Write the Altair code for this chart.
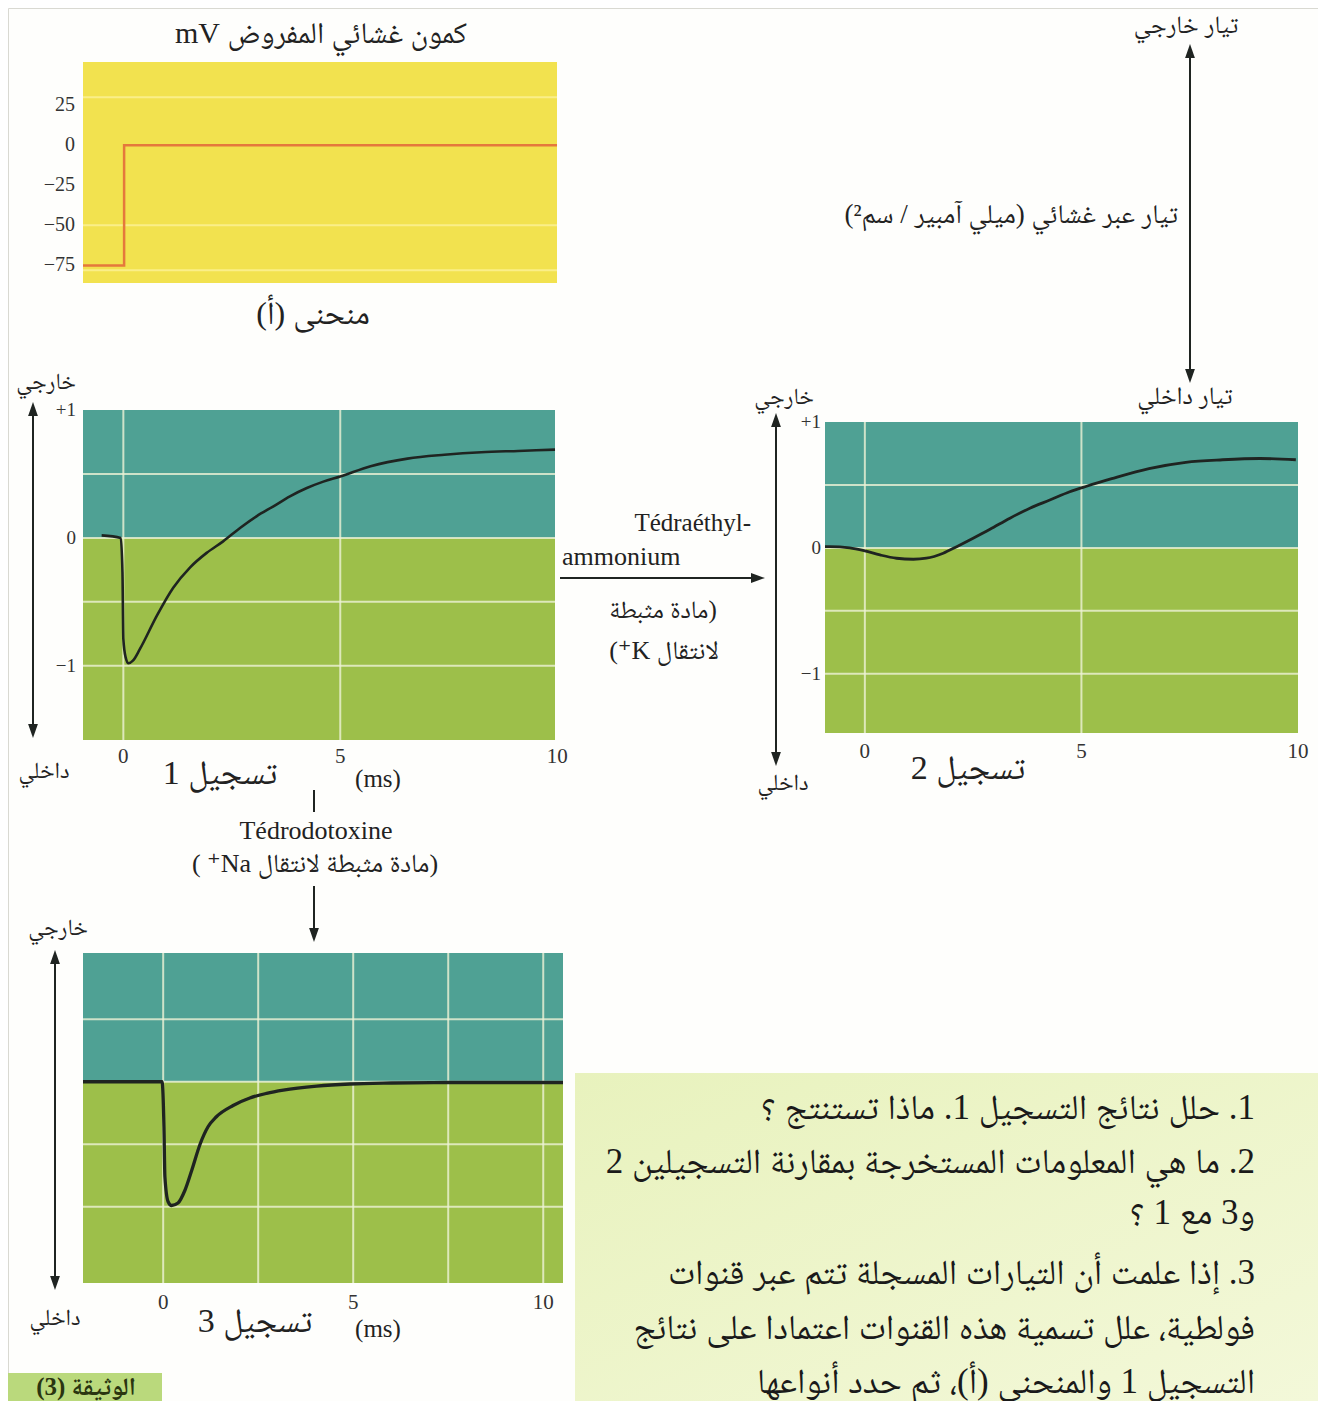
import altair as alt
import pandas as pd

M = 8  # page margin: pixel p on the page -> p - M in the chart
INK = "#1f2421"
TEAL = "#4fa194"
GREEN = "#9dbf4a"
YELLOW = "#f2e24f"
RED = "#e5783c"
GRID = "#eef2d6"
SERIF = "Liberation Serif"
MIXED = "Liberation Serif, Noto Naskh Arabic, Amiri, DejaVu Sans"

# ---------------- data ----------------
# curve (A): imposed membrane potential (mV) vs time (ms)
volt_t = [-0.95, 0.0, 0.0, 10.0]
volt_mv = [-75, -75, 0, 0]
volt_ticks = [25, 0, -25, -50, -75]
volt_tick_labels = ["25", "0", "−25", "−50", "−75"]

# recording 1 (control)
rec1_t = [-0.50, -0.06, -0.02, 0.0, 0.05, 0.12, 0.22, 0.38, 0.77, 1.15, 1.54, 1.92, 2.30,
          2.69, 3.07, 3.46, 3.84, 4.23, 4.61, 5.0, 5.70, 6.55, 7.40, 8.25, 9.10, 9.95]
rec1_i = [0.02, 0.0, -0.27, -0.79, -0.93, -0.98, -0.96, -0.87, -0.61, -0.39, -0.23, -0.117, -0.027,
          0.078, 0.169, 0.247, 0.325, 0.39, 0.44, 0.48, 0.56, 0.62, 0.65, 0.67, 0.68, 0.69]

# recording 2 (tetraethylammonium)
rec2_t = [-0.92, -0.81, -0.35, 0.0, 0.35, 0.73, 1.12, 1.42, 1.81, 2.12, 2.50, 2.89,
          3.35, 3.81, 4.27, 4.73, 5.12, 5.70, 6.56, 7.41, 8.26, 9.12, 9.95]
rec2_i = [0.01, 0.01, 0.0, -0.024, -0.056, -0.082, -0.09, -0.082, -0.042, 0.01, 0.077, 0.148,
          0.236, 0.315, 0.38, 0.446, 0.49, 0.55, 0.63, 0.68, 0.70, 0.71, 0.70]

# recording 3 (tetrodotoxin)
rec3_t = [-2.11, -0.03, 0.02, 0.045, 0.13, 0.22, 0.39, 0.57, 0.75, 0.97, 1.18, 1.40,
          1.84, 2.28, 2.72, 3.16, 4.04, 4.91, 6.0, 7.5, 10.52]
rec3_i = [0.0, 0.0, -0.36, -0.76, -0.96, -0.99, -0.97, -0.87, -0.71, -0.50, -0.36, -0.28,
          -0.19, -0.13, -0.093, -0.067, -0.035, -0.018, -0.01, -0.006, -0.006]

ms_ticks = [0, 5, 10]
i_ticks = [1, 0, -1]
i_tick_labels = ["+1", "0", "−1"]

questions = [
    "1. حلل نتائج التسجيل 1. ماذا تستنتج ؟",
    "2. ما هي المعلومات المستخرجة بمقارنة التسجيلين 2",
    "و3 مع 1 ؟",
    "3. إذا علمت أن التيارات المسجلة تتم عبر قنوات",
    "فولطية، علل تسمية هذه القنوات اعتمادا على نتائج",
    "التسجيل 1 والمنحنى (أ)، ثم حدد أنواعها",
]

one = pd.DataFrame({"k": [0]})


def rtl(s):
    return "\u202b" + s + "\u202c"


def scale(dom, a, b):
    return alt.Scale(domain=dom, range=[a - M, b - M], zero=False, nice=False)


def label(txt, x, y, size=18, align="center", font=MIXED, weight="normal", color="#222"):
    return alt.Chart(one).mark_text(
        text=txt, fontSize=size, align=align, baseline="middle", font=font,
        fontWeight=weight, color=color,
    ).encode(x=alt.value(x - M), y=alt.value(y - M))


def seg(x1, y1, x2, y2, w=2):
    return alt.Chart(one).mark_rule(color=INK, strokeWidth=w).encode(
        x=alt.value(x1 - M), y=alt.value(y1 - M), x2=alt.value(x2 - M), y2=alt.value(y2 - M))


HEADS = {
    "up": "M0,-1L0.7,1L-0.7,1Z",
    "down": "M0,1L0.7,-1L-0.7,-1Z",
    "right": "M1,0L-1,0.7L-1,-0.7Z",
}


def head(x, y, d):
    return alt.Chart(one).mark_point(shape=HEADS[d], filled=True, size=196, color=INK,
                                     opacity=1, strokeWidth=0).encode(
        x=alt.value(x - M), y=alt.value(y - M))


def vdouble(x, top, bottom):
    return [seg(x, top + 8, x, bottom - 8), head(x, top + 7, "up"), head(x, bottom - 7, "down")]


def rect_px(x1, y1, x2, y2, fill):
    return alt.Chart(one).mark_rect(color=fill).encode(
        x=alt.value(x1 - M), x2=alt.value(x2 - M), y=alt.value(y1 - M), y2=alt.value(y2 - M))


def recording(t, i, xdom, xpx, ydom, ypx, vgrid, hgrid, lw, xlab_y, ylab_x=None):
    xs = scale(xdom, *xpx)
    ys = scale(ydom, *ypx)
    L = []
    for lo, hi, col in [(0.0, ydom[1], TEAL), (ydom[0], 0.0, GREEN)]:
        b = pd.DataFrame({"x0": [xdom[0]], "x1": [xdom[1]], "y0": [lo], "y1": [hi]})
        L.append(alt.Chart(b).mark_rect(color=col).encode(
            x=alt.X("x0:Q", scale=xs, axis=None), x2="x1:Q",
            y=alt.Y("y0:Q", scale=ys, axis=None), y2="y1:Q"))
    vg = pd.DataFrame({"t": vgrid, "lo": ydom[0], "hi": ydom[1]})
    L.append(alt.Chart(vg).mark_rule(color=GRID, strokeWidth=2, opacity=0.8).encode(
        x=alt.X("t:Q", scale=xs, axis=None),
        y=alt.Y("lo:Q", scale=ys, axis=None), y2="hi:Q"))
    hg = pd.DataFrame({"v": hgrid, "lo": xdom[0], "hi": xdom[1]})
    L.append(alt.Chart(hg).mark_rule(color=GRID, strokeWidth=2, opacity=0.8).encode(
        x=alt.X("lo:Q", scale=xs, axis=None), x2="hi:Q",
        y=alt.Y("v:Q", scale=ys, axis=None)))
    cv = pd.DataFrame({"t": t, "i": i, "k": list(range(len(t)))})
    L.append(alt.Chart(cv).mark_line(color=INK, strokeWidth=lw, interpolate="monotone").encode(
        x=alt.X("t:Q", scale=xs, axis=None), y=alt.Y("i:Q", scale=ys, axis=None),
        order="k:Q"))
    xt = pd.DataFrame({"t": ms_ticks, "lab": [str(v) for v in ms_ticks]})
    L.append(alt.Chart(xt).mark_text(font=SERIF, fontSize=21, color="#333", baseline="middle").encode(
        x=alt.X("t:Q", scale=xs, axis=None), y=alt.value(xlab_y - M), text="lab:N"))
    if ylab_x is not None:
        yt = pd.DataFrame({"v": i_ticks, "lab": i_tick_labels})
        L.append(alt.Chart(yt).mark_text(font=SERIF, fontSize=19, color="#333", align="right",
                                         baseline="middle").encode(
            x=alt.value(ylab_x - M), y=alt.Y("v:Q", scale=ys, axis=None), text="lab:N"))
    return L


layers = []

# ---------------- panel A (imposed potential) ----------------
axs = scale([-0.95, 10], 83, 557)
ays = scale([-86, 52], 283, 62)
bgA = pd.DataFrame({"x0": [-0.95], "x1": [10], "y0": [-86], "y1": [52]})
layers.append(alt.Chart(bgA).mark_rect(color=YELLOW).encode(
    x=alt.X("x0:Q", scale=axs, axis=None), x2="x1:Q",
    y=alt.Y("y0:Q", scale=ays, axis=None), y2="y1:Q"))
faint = pd.DataFrame({"v": [30, -50, -78], "lo": -0.95, "hi": 10})
layers.append(alt.Chart(faint).mark_rule(color="#fff7b0", strokeWidth=2, opacity=0.6).encode(
    x=alt.X("lo:Q", scale=axs, axis=None), x2="hi:Q", y=alt.Y("v:Q", scale=ays, axis=None)))
vdf = pd.DataFrame({"t": volt_t, "v": volt_mv, "k": list(range(len(volt_t)))})
layers.append(alt.Chart(vdf).mark_line(color=RED, strokeWidth=2.5).encode(
    x=alt.X("t:Q", scale=axs, axis=None), y=alt.Y("v:Q", scale=ays, axis=None), order="k:Q"))
vt = pd.DataFrame({"v": volt_ticks, "lab": volt_tick_labels})
layers.append(alt.Chart(vt).mark_text(font=SERIF, fontSize=20, color="#333", align="right",
                                      baseline="middle").encode(
    x=alt.value(75 - M), y=alt.Y("v:Q", scale=ays, axis=None), text="lab:N"))
layers.append(label(rtl("كمون غشائي المفروض mV"), 321, 34, size=30))
layers.append(label(rtl("منحنى (أ)"), 313, 314, size=32))

# ---------------- recordings ----------------
layers += recording(rec1_t, rec1_i, [-0.93, 9.95], (83, 555), [-1.58, 1.0], (740, 410),
                    [0, 5], [0.5, 0, -0.5, -1], 2.6, 757, ylab_x=76)
layers += recording(rec2_t, rec2_i, [-0.92, 10.0], (825, 1298), [-1.47, 1.0], (733, 422),
                    [0, 5], [0.5, 0, -0.5, -1], 2.8, 752, ylab_x=821)
layers += recording(rec3_t, rec3_i, [-2.11, 10.52], (83, 563), [-1.61, 1.03], (1283, 953),
                    [0, 2.5, 5, 7.5, 10], [0.5, 0, -0.5, -1], 3.3, 1303)

# recording captions
layers.append(label(rtl("تسجيل 1"), 220, 774, size=34))
layers.append(label("(ms)", 378, 779, size=25, font=SERIF))
layers.append(label(rtl("تسجيل 2"), 968, 769, size=34))
layers.append(label(rtl("تسجيل 3"), 255, 1322, size=34))
layers.append(label("(ms)", 378, 1329, size=25, font=SERIF))

# outside / inside arrows
layers += vdouble(33, 402, 738)
layers.append(label(rtl("خارجي"), 46, 382, size=23))
layers.append(label(rtl("داخلي"), 44, 771, size=23))
layers += vdouble(776, 413, 766)
layers.append(label(rtl("خارجي"), 784, 397, size=23))
layers.append(label(rtl("داخلي"), 783, 783, size=23))
layers += vdouble(55, 950, 1290)
layers.append(label(rtl("خارجي"), 58, 928, size=23))
layers.append(label(rtl("داخلي"), 55, 1318, size=23))

# top-right current annotation
layers += vdouble(1190, 44, 383)
layers.append(label(rtl("تيار خارجي"), 1186, 25, size=25))
layers.append(label(rtl("تيار داخلي"), 1185, 396, size=25))
layers.append(label(rtl("تيار عبر غشائي (ميلي آمبير / سم²)"), 1178, 215, size=27, align="right"))

# TEA arrow (recording 1 -> 2)
layers.append(seg(560, 578, 756, 578))
layers.append(head(758, 578, "right"))
layers.append(label("Tédraéthyl-", 751, 523, size=25, font=SERIF, align="right"))
layers.append(label("ammonium", 562, 557, size=26, font=SERIF, align="left"))
layers.append(label(rtl("(مادة مثبطة"), 663, 610, size=25))
layers.append(label(rtl("لانتقال K⁺)"), 664, 651, size=26))

# TTX arrow (recording 1 -> 3)
layers.append(seg(314, 790, 314, 812))
layers.append(seg(314, 886, 314, 930))
layers.append(head(314, 935, "down"))
layers.append(label("Tédrodotoxine", 316, 831, size=26, font=SERIF))
layers.append(label(rtl("(مادة مثبطة لانتقال Na⁺ )"), 315, 864, size=26))

# document tag
layers.append(rect_px(8, 1373, 162, 1401, "#bad97c"))
layers.append(label(rtl("الوثيقة (3)"), 86, 1387, size=25, weight="bold", color="#2a3510"))

# question box
layers.append(alt.Chart(one).mark_rect(
    color=alt.LinearGradient(gradient="linear", x1=0, x2=1, y1=0, y2=1,
                             stops=[alt.GradientStop(color="#e8f2bd", offset=0),
                                    alt.GradientStop(color="#f3f8d9", offset=1)])).encode(
    x=alt.value(575 - M), x2=alt.value(1318 - M), y=alt.value(1073 - M), y2=alt.value(1401 - M)))
q_y = [1108, 1162, 1213, 1273, 1328, 1382]
for txt, yy in zip(questions, q_y):
    layers.append(label(rtl(txt), 1255, yy, size=35, align="right", color="#1a1a1a"))

chart = alt.layer(*layers).resolve_scale(x="independent", y="independent").properties(
    width=1310, height=1393, autosize="none", padding=0, background="#fefefc"
).configure_view(stroke="#d9d9d2", strokeWidth=1)

chart.save("out.html", embed_options={"renderer": "svg", "actions": False})
